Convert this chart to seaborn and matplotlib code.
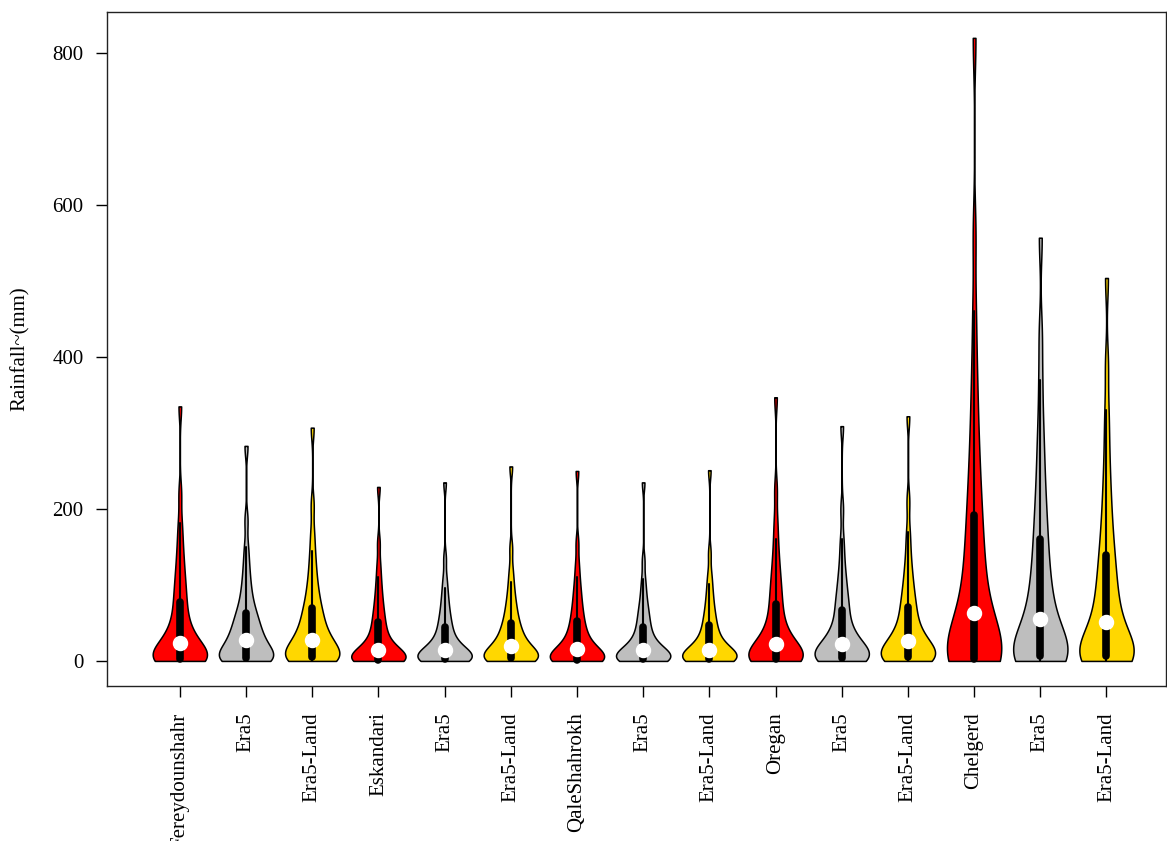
import numpy as np
import pandas as pd
import matplotlib
matplotlib.use("Agg")
import matplotlib.pyplot as plt
import seaborn as sns

# monthly rainfall quantiles (0%, 2.5%, ..., 100%), mm
fereydounshahr = [0, 0, 0, 0, 0, 0, 0, 0.2, 0.5, 1, 2,
                  3.5, 5, 7, 9, 11.5, 14, 16.5, 19, 21.5, 24,
                  27, 30, 34, 38, 43, 48, 55, 62, 70, 78,
                  86, 95, 105, 115, 128, 142, 160, 182, 220, 335]
fereydounshahr_era5 = [0, 0, 0, 0.2, 0.5, 0.8, 1, 1.5, 2, 3, 4,
                       5.5, 8, 10.5, 13, 15.5, 18, 20.5, 23, 25.5, 28,
                       30.5, 33, 36.5, 40, 43.5, 47, 51, 55, 59, 63,
                       69, 75, 83, 92, 102, 115, 130, 150, 185, 283]
fereydounshahr_land = [0, 0, 0, 0.2, 0.5, 1, 1.5, 2, 3, 4, 5,
                       7, 9, 11.5, 14, 16.5, 19, 21.5, 24, 26, 28,
                       31, 34, 38, 42, 46, 51, 55, 60, 65, 70,
                       77, 84, 93, 102, 114, 128, 145, 168, 205, 307]
eskandari = [0, 0, 0, 0, 0, 0, 0, 0.2, 0.5, 1, 1.5,
             2.2, 3, 4.5, 6, 7.5, 9, 10.5, 12, 13.5, 15,
             17, 19, 22, 25, 28.5, 32, 36.5, 41, 46, 51,
             57, 63, 70, 78, 87, 98, 111, 128, 155, 229]
eskandari_era5 = [0, 0, 0, 0.1, 0.3, 0.5, 0.8, 1.1, 1.5, 2.2, 3,
                  4, 5, 6, 7, 8.5, 10, 11, 12, 13.5, 15,
                  16.5, 18, 20.5, 23, 26, 29, 32.5, 36, 40.5, 45,
                  50, 55, 61, 68, 76, 85, 96, 110, 135, 235]
eskandari_land = [0, 0, 0, 0.2, 0.5, 0.7, 1, 1.5, 2, 2.7, 3.5,
                  4.7, 6, 7.5, 9, 10.5, 12, 13.5, 15, 17, 19,
                  21, 23, 26, 29, 32, 35, 38.5, 42, 46, 50,
                  55.5, 61, 67, 74, 82, 92, 104, 120, 148, 256]
qaleshahrokh = [0, 0, 0, 0, 0, 0, 0, 0.2, 0.5, 1, 1.5,
                2.5, 3.5, 5, 6.5, 8, 10, 11.5, 13, 14.5, 16,
                18.5, 21, 24, 27, 30.5, 34, 38, 42, 47, 52,
                58, 64, 71, 79, 88, 98, 111, 128, 155, 250]
qaleshahrokh_era5 = [0, 0, 0, 0.1, 0.3, 0.5, 0.8, 1.1, 1.5, 2.2, 3,
                     4, 5, 6, 7, 8.5, 10, 11, 12.5, 13.8, 15,
                     16.5, 18, 20.5, 23, 26, 29, 32.5, 36, 40.5, 45,
                     50, 55, 61, 67, 74, 83, 94, 108, 132, 235]
qaleshahrokh_land = [0, 0, 0, 0.2, 0.4, 0.7, 1, 1.4, 1.8, 2.4, 3,
                     4, 5, 6.2, 7.5, 8.7, 10, 11.2, 12.5, 13.8, 15,
                     17, 19, 21.5, 24, 27.5, 31, 34.5, 38, 42.5, 47,
                     52.5, 58, 64, 71, 80, 89, 101, 115, 142, 251]
oregan = [0, 0, 0, 0, 0, 0, 0, 0.2, 0.5, 1, 2,
          3.5, 5, 7, 9, 11, 13, 15, 17, 19.5, 22,
          25, 28, 32, 36, 41, 46, 52, 59, 67, 75,
          83, 92, 102, 112, 125, 140, 160, 185, 225, 347]
oregan_era5 = [0, 0, 0, 0.2, 0.5, 0.7, 1, 1.5, 2, 3, 4,
               5.5, 7, 9, 11, 13, 15, 16.5, 18, 20, 22,
               24.5, 27, 30.5, 34, 38, 42, 47, 53, 60, 67,
               73, 80, 88, 97, 108, 120, 138, 160, 200, 309]
oregan_land = [0, 0, 0, 0.2, 0.5, 1, 1.5, 2, 3, 4, 5,
               7, 9, 11, 13, 15, 17, 19, 21, 23.5, 26,
               28.5, 31, 34.5, 38, 43, 48, 53, 59, 65, 71,
               78, 85, 94, 103, 115, 128, 147, 170, 210, 322]
chelgerd = [0, 0, 0, 0, 0, 0, 0, 0.2, 0.5, 1, 2,
            4.5, 8, 12.5, 18, 24, 30, 37, 45, 54, 63,
            72, 82, 93, 105, 117, 130, 145, 160, 175, 192,
            210, 230, 255, 280, 312, 350, 395, 460, 560, 820]
chelgerd_era5 = [0, 0, 0, 0.2, 0.5, 1, 1.5, 2.2, 3, 4.5, 6,
                 9, 12, 16, 20, 25, 30, 36, 42, 48.5, 55,
                 62, 70, 79, 88, 97, 108, 120, 132, 146, 160,
                 175, 192, 210, 232, 257, 285, 320, 370, 430, 557]
chelgerd_land = [0, 0, 0, 0.2, 0.5, 1, 1.5, 2.2, 3, 4.5, 6,
                 8.5, 11, 14.5, 18, 22.5, 27, 32.5, 38, 44.5, 51,
                 57.5, 64, 72, 80, 89, 98, 108, 118, 129, 140,
                 154, 168, 186, 205, 228, 255, 290, 330, 390, 504]

tick_labels = ["Fereydounshahr", "Era5", "Era5-Land", "Eskandari", "Era5", "Era5-Land",
               "QaleShahrokh", "Era5", "Era5-Land", "Oregan", "Era5", "Era5-Land",
               "Chelgerd", "Era5", "Era5-Land"]
sources = ["Station", "Era5", "Era5-Land"] * 5
series = [fereydounshahr, fereydounshahr_era5, fereydounshahr_land,
          eskandari, eskandari_era5, eskandari_land,
          qaleshahrokh, qaleshahrokh_era5, qaleshahrokh_land,
          oregan, oregan_era5, oregan_land,
          chelgerd, chelgerd_era5, chelgerd_land]
colors = {"Station": "#FF0000", "Era5": "#BEBEBE", "Era5-Land": "#FFD700"}

rows = []
for i, vals in enumerate(series):
    for v in vals:
        rows.append({"key": f"g{i}", "source": sources[i], "rain": v})
df = pd.DataFrame(rows)
order = [f"g{i}" for i in range(len(series))]

sns.set_style("ticks")
plt.rcParams["font.family"] = ["Liberation Serif", "DejaVu Serif"]
plt.rcParams["text.color"] = "black"
plt.rcParams["axes.labelcolor"] = "black"
plt.rcParams["xtick.color"] = "black"
plt.rcParams["ytick.color"] = "black"

fig = plt.figure(figsize=(11.67, 8.41), dpi=100)
ax = fig.add_axes([0.0917, 0.1843, 0.9075, 0.8014])

sns.violinplot(data=df, x="key", y="rain", hue="source", order=order,
               palette=colors, dodge=False, legend=False, saturation=1,
               density_norm="width", cut=0, bw_adjust=0.5, gridsize=400,
               width=0.82, linewidth=1.1, linecolor="black", inner="box",
               inner_kws=dict(box_width=5.5, whis_width=1.5, marker="o",
                              markersize=10), ax=ax)

ax.set_xlim(-1.1, 14.9)
ax.set_ylim(-33, 854)
ax.set_yticks([0, 200, 400, 600, 800])
ax.set_xticks(range(len(tick_labels)))
ax.set_xticklabels(tick_labels, rotation=90)
ax.set_xlabel("")
ax.set_ylabel("Rainfall~(mm)", fontsize=15, labelpad=16)
ax.tick_params(axis="both", labelsize=15, length=8, width=1)
ax.tick_params(axis="x", pad=11)
ax.tick_params(axis="y", pad=9)
for s in ax.spines.values():
    s.set_visible(True)
    s.set_linewidth(1)
    s.set_color("#222222")

fig.savefig("out.png", dpi=100)
